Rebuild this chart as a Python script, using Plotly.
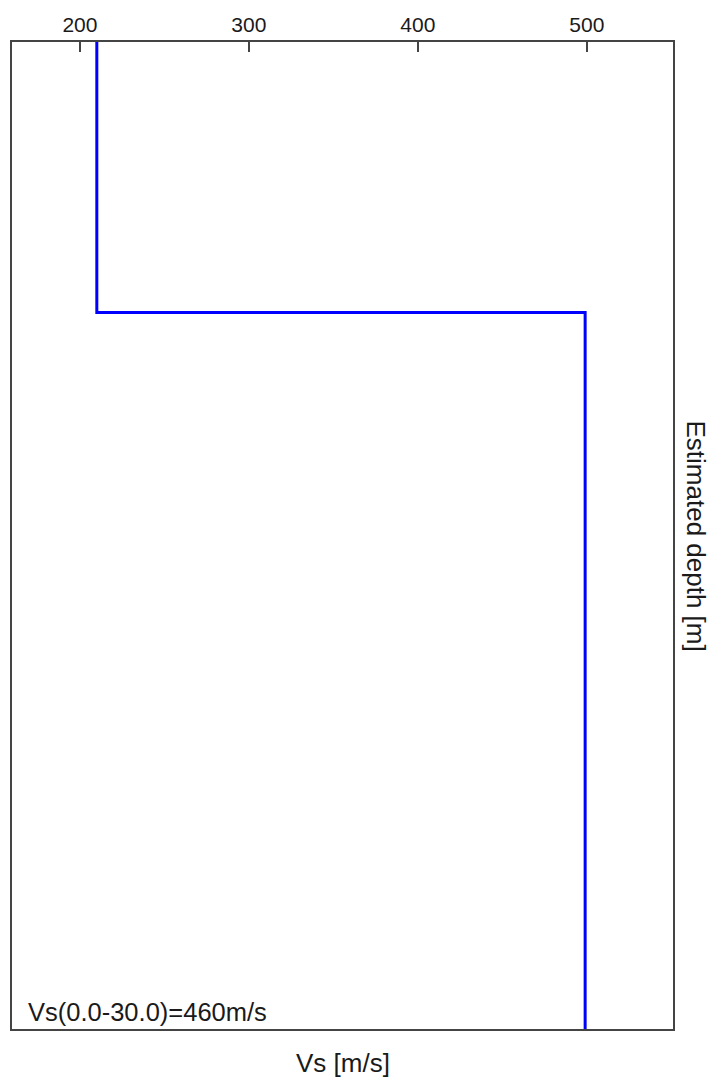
import plotly.graph_objects as go

# Layered shear-wave velocity model
layer_tops = [0.0, 1.85]      # m
layer_vs = [210, 499]         # m/s
profile_bottom = 30.0         # m
depth_view_max = 6.75         # m shown on the depth axis

x_ticks = [200, 300, 400, 500]

# Build step profile
bounds = layer_tops[1:] + [profile_bottom]
depth, vs = [], []
for top, bot, v in zip(layer_tops, bounds, layer_vs):
    depth += [top, bot]
    vs += [v, v]

# Time-averaged velocity over the profile
travel = sum((b - t) / v for t, b, v in zip(layer_tops, bounds, layer_vs))
vs_avg = profile_bottom / travel

FONT = "Liberation Sans"
AXIS = "#444444"
TEXT = "#1a1a1a"

fig = go.Figure()
fig.add_trace(go.Scatter(
    x=vs, y=depth, mode="lines",
    line=dict(color="#0000ff", width=3, shape="linear"),
    hoverinfo="skip", showlegend=False,
))

fig.update_layout(
    width=715, height=1084,
    margin=dict(l=12, r=42, t=42, b=55),
    paper_bgcolor="white", plot_bgcolor="white",
    font=dict(family=FONT, color=TEXT),
    xaxis=dict(
        side="top", range=[159.8, 551], tickvals=x_ticks,
        ticks="inside", ticklen=10, tickwidth=2, tickcolor=AXIS,
        showline=True, mirror=True, linewidth=2, linecolor=AXIS,
        showgrid=False, zeroline=False,
        tickfont=dict(family=FONT, size=21, color=TEXT),
    ),
    yaxis=dict(
        range=[depth_view_max, 0], showticklabels=False, ticks="",
        showline=True, mirror=True, linewidth=2, linecolor=AXIS,
        showgrid=False, zeroline=False,
    ),
    annotations=[
        dict(text="Vs [m/s]", xref="paper", yref="paper", x=0.5, y=0,
             xanchor="center", yanchor="middle", yshift=-34, showarrow=False,
             font=dict(family=FONT, size=26, color=TEXT)),
        dict(text="Estimated depth [m]", xref="paper", yref="paper", x=1, y=0.5,
             xanchor="center", yanchor="middle", xshift=23, yshift=0,
             textangle=90, showarrow=False,
             font=dict(family=FONT, size=26, color=TEXT)),
        dict(text=f"Vs({layer_tops[0]:.1f}-{profile_bottom:.1f})={vs_avg:.0f}m/s",
             xref="paper", yref="paper", x=0, y=0,
             xanchor="left", yanchor="middle", xshift=14, yshift=17,
             showarrow=False,
             font=dict(family=FONT, size=25.5, color=TEXT)),
    ],
)

fig.write_html("out.html")
